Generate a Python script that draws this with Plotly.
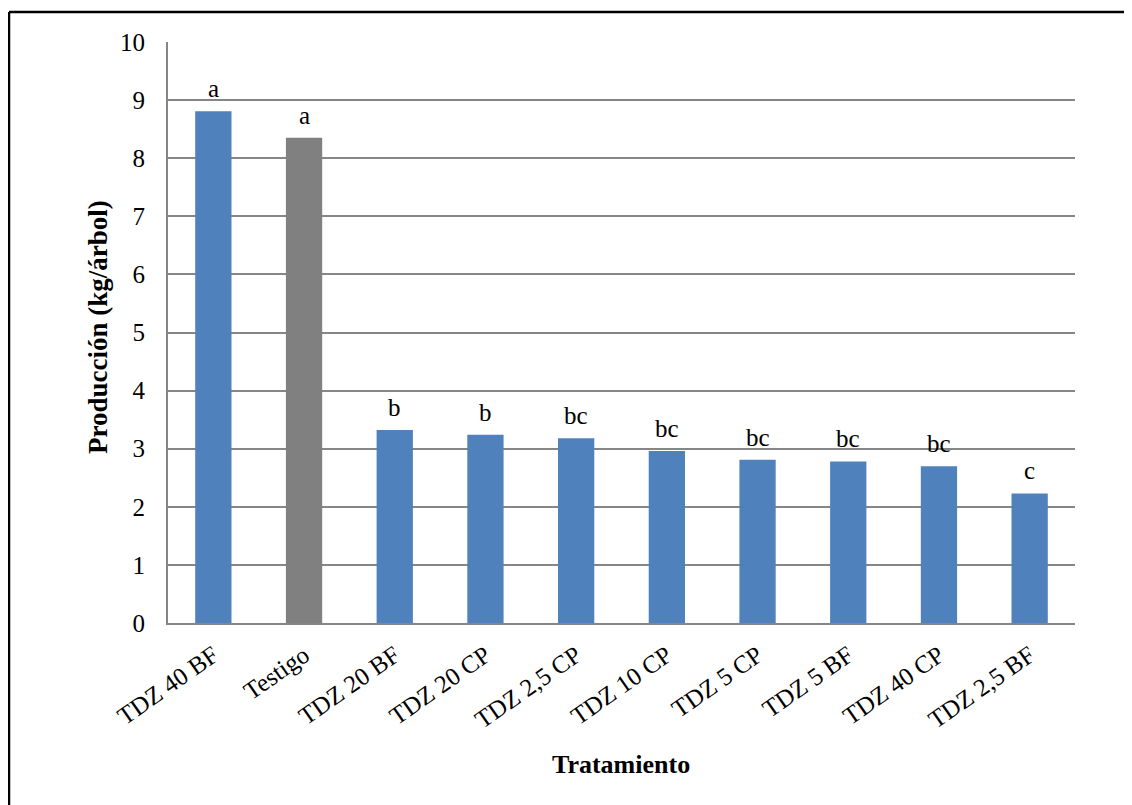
import plotly.graph_objects as go

categories = ["TDZ 40 BF", "Testigo", "TDZ 20 BF", "TDZ 20 CP", "TDZ 2,5 CP",
              "TDZ 10 CP", "TDZ 5 CP", "TDZ 5 BF", "TDZ 40 CP", "TDZ 2,5 BF"]
values = [8.81, 8.35, 3.32, 3.24, 3.18, 2.96, 2.81, 2.78, 2.70, 2.23]
letters = ["a", "a", "b", "b", "bc", "bc", "bc", "bc", "bc", "c"]
bar_colors = ["#4F81BD", "#808080"] + ["#4F81BD"] * 8

FONT = "Liberation Serif, Times New Roman, serif"
OFF = 8  # default page body margin
W, H = 1132 - OFF, 805 - OFF
L, R, T, B = 168 - OFF, 1132 - 1075, 42 - OFF, 805 - 623
pw, ph = W - L - R, H - T - B

fig = go.Figure()
fig.add_trace(go.Bar(x=categories, y=values, marker=dict(color=bar_colors, line=dict(width=0)),
                     width=0.4, hoverinfo="x+y"))

annotations = []
for c, v, t in zip(categories, values, letters):
    annotations.append(dict(x=c, y=v, xref="x", yref="y", text=t, showarrow=False,
                            yanchor="bottom", yshift=7,
                            font=dict(family=FONT, size=25, color="black")))

def px_x(p):
    return (p - OFF - L) / pw

def px_y(p):
    return (H + OFF - B - p) / ph

annotations.append(dict(x=px_x(98), y=px_y(327), xref="paper", yref="paper",
                        text="<b>Producción (kg/árbol)</b>", textangle=-90, showarrow=False,
                        xanchor="center", yanchor="middle",
                        font=dict(family=FONT, size=27, color="black")))
annotations.append(dict(x=px_x(621), y=px_y(764), xref="paper", yref="paper",
                        text="<b>Tratamiento</b>", showarrow=False,
                        xanchor="center", yanchor="middle",
                        font=dict(family=FONT, size=26, color="black")))

shapes = [
    dict(type="line", xref="paper", yref="paper", x0=px_x(9), x1=px_x(1145),
         y0=px_y(12), y1=px_y(12), line=dict(color="black", width=2.5)),
    dict(type="line", xref="paper", yref="paper", x0=px_x(9), x1=px_x(9),
         y0=px_y(12), y1=px_y(820), line=dict(color="black", width=2.5)),
]

fig.update_layout(
    width=W, height=H,
    margin=dict(l=L, r=R, t=T, b=B, pad=0),
    paper_bgcolor="white", plot_bgcolor="white",
    showlegend=False,
    annotations=annotations,
    shapes=shapes,
    bargap=0.6,
    font=dict(family=FONT, size=24, color="black"),
)
fig.update_xaxes(type="category", tickangle=-35, showgrid=False, showline=True,
                 linecolor="#868686", linewidth=2, ticks="",
                 tickfont=dict(family=FONT, size=25, color="black"),
                 ticklabelstandoff=6, range=[-0.5, 9.5], fixedrange=True)
fig.update_yaxes(range=[0, 10], dtick=1, showgrid=True, gridcolor="#868686", gridwidth=1.5,
                 showline=True, linecolor="#868686", linewidth=2, zeroline=False, ticks="",
                 tickfont=dict(family=FONT, size=25, color="black"),
                 ticklabelstandoff=16, fixedrange=True)

fig.write_html("out.html")
